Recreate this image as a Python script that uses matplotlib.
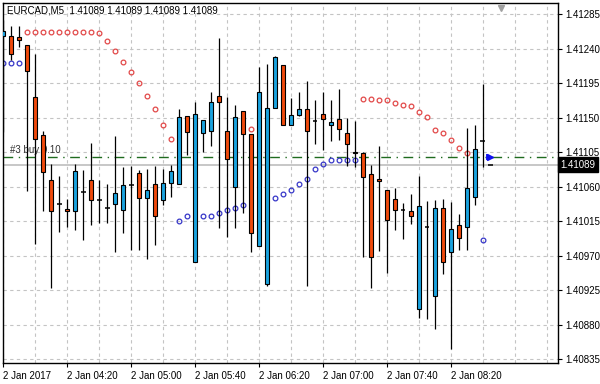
import numpy as np
import matplotlib
matplotlib.use("Agg")
import matplotlib.pyplot as plt
import matplotlib.transforms as mtransforms

plt.rcParams['font.family'] = ['Liberation Sans', 'DejaVu Sans']

# EURCAD M5 bars (open, high, low, close)
opens = [1.41257, 1.41257, 1.41256, 1.41245, 1.41177, 1.41128, 1.41069, 1.41037, 1.41031, 1.41029,
         1.41053, 1.41069, 1.41043, 1.41033, 1.41038, 1.41030, 1.41063, 1.41078, 1.41046, 1.41064,
         1.41043, 1.41065, 1.41064, 1.41153, 1.40962, 1.41130, 1.41133, 1.41179, 1.41133, 1.41060,
         1.41159, 1.41129, 1.40983, 1.40933, 1.41163, 1.41219, 1.41141, 1.41154, 1.41161, 1.41146,
         1.41155, 1.41141, 1.41148, 1.41130, 1.41106, 1.41104, 1.41077, 1.41070, 1.41056, 1.41044,
         1.41030, 1.41028, 1.40901, 1.41008, 1.40918, 1.41033, 1.40975, 1.41010, 1.41008, 1.41047,
         1.41120, 1.41089]
highs = [1.41278, 1.41270, 1.41270, 1.41245, 1.41233, 1.41133, 1.41090, 1.41074, 1.41044, 1.41090,
         1.41082, 1.41117, 1.41069, 1.41064, 1.41127, 1.41086, 1.41087, 1.41082, 1.41083, 1.41087,
         1.41083, 1.41088, 1.41162, 1.41153, 1.41171, 1.41147, 1.41184, 1.41254, 1.41177, 1.41167,
         1.41159, 1.41129, 1.41217, 1.41220, 1.41231, 1.41219, 1.41176, 1.41184, 1.41198, 1.41173,
         1.41184, 1.41173, 1.41188, 1.41150, 1.41146, 1.41105, 1.41088, 1.41113, 1.41056, 1.41059,
         1.41039, 1.41050, 1.41074, 1.41041, 1.41043, 1.41044, 1.41040, 1.41024, 1.41137, 1.41141,
         1.41194, 1.41089]
lows = [1.41131, 1.41226, 1.41243, 1.41054, 1.40986, 1.41029, 1.40928, 1.41001, 1.41008, 1.41004,
        1.40990, 1.41010, 1.41013, 1.41013, 1.40975, 1.41000, 1.40978, 1.40978, 1.40966, 1.40984,
        1.41036, 1.41047, 1.41064, 1.41101, 1.40962, 1.41105, 1.41113, 1.41006, 1.40995, 1.41006,
        1.41026, 1.40975, 1.40983, 1.40930, 1.41163, 1.41141, 1.41141, 1.41152, 1.40930, 1.41116,
        1.41108, 1.41120, 1.41121, 1.41087, 1.41086, 1.40969, 1.40928, 1.40976, 1.40948, 1.41003,
        1.40992, 1.41012, 1.40889, 1.40887, 1.40875, 1.40946, 1.40848, 1.40977, 1.40978, 1.41036,
        1.41086, 1.41089]
closes = [1.41264, 1.41234, 1.41252, 1.41211, 1.41122, 1.41079, 1.41029, 1.41037, 1.41029, 1.41081,
          1.41053, 1.41043, 1.41043, 1.41033, 1.41052, 1.41063, 1.41063, 1.41046, 1.41056, 1.41022,
          1.41065, 1.41081, 1.41151, 1.41132, 1.41155, 1.41147, 1.41171, 1.41171, 1.41096, 1.41151,
          1.41129, 1.41000, 1.41184, 1.41163, 1.41230, 1.41141, 1.41154, 1.41161, 1.41133, 1.41146,
          1.41149, 1.41144, 1.41136, 1.41116, 1.41104, 1.41073, 1.40969, 1.41067, 1.41017, 1.41030,
          1.41030, 1.41022, 1.41035, 1.41008, 1.41033, 1.40962, 1.41005, 1.40993, 1.41058, 1.41110,
          1.41120, 1.41089]

# Parabolic SAR dots (None = not visible)
sar_red = [None, None, None, 1.41262, 1.41262, 1.41262, 1.41262, 1.41262, 1.41262, 1.41262,
           1.41262, 1.41262, 1.41261, 1.41251, 1.41237, 1.41223, 1.41210, 1.41196, 1.41179, 1.41162,
           1.41141, 1.41123, None, None, None, None, None, None, None, None,
           None, 1.41136, None, None, None, None, None, None, None, None,
           None, None, None, None, None, 1.41175, 1.41175, 1.41173, 1.41173, 1.41170,
           1.41167, 1.41165, 1.41158, 1.41151, 1.41134, 1.41130, 1.41121, 1.41111, 1.41104, None,
           None, None]
sar_blue = [1.41222, 1.41222, 1.41222, None, None, None, None, None, None, None,
            None, None, None, None, None, None, None, None, None, None,
            None, None, 1.41016, 1.41022, None, 1.41022, 1.41022, 1.41026, 1.41030, 1.41033,
            1.41036, None, None, None, 1.41046, 1.41051, 1.41056, 1.41064, 1.41070, 1.41083,
            1.41090, 1.41095, 1.41095, 1.41095, 1.41095, None, None, None, None, None,
            None, None, None, None, None, None, None, None, None, None,
            1.40991, None]

price_ticks = [1.41285, 1.41240, 1.41195, 1.41150, 1.41105, 1.41060,
               1.41015, 1.40970, 1.40925, 1.40880, 1.40835]
time_tick_bars = [0, 8, 16, 24, 32, 40, 48, 56]
time_labels = ['2 Jan 2017', '2 Jan 04:20', '2 Jan 05:00', '2 Jan 05:40',
               '2 Jan 06:20', '2 Jan 07:00', '2 Jan 07:40', '2 Jan 08:20']

bid = 1.41089
order_price = 1.41099
order_label = '#3 buy 0.10'
title = 'EURCAD,M5  1.41089 1.41089 1.41089 1.41089'

BULL = '#1AA3E0'
BEAR = '#F04A0C'

fig = plt.figure(figsize=(6, 3.84), dpi=100)
ax = fig.add_axes([3 / 600, 21 / 384, 555 / 600, 360 / 384])
ax.set_xlim(-0.04, 69.4)
ax.set_ylim(1.40830, 1.41300)

# grid
for gx in range(0, 70, 4):
    ax.axvline(gx, color='#C4C4C4', lw=0.8, ls=(0, (3, 3)), zorder=0)
for gy in price_ticks:
    ax.axhline(gy, color='#C4C4C4', lw=0.8, ls=(0, (3, 3)), zorder=0)

# bid and order lines
ax.axhline(bid, color='#BDBDBD', lw=1.2, zorder=1)
ax.axhline(order_price, color='#1F6B1F', lw=1.0, ls=(0, (7, 4, 1, 4)), zorder=1)
ax.text(0.8, 1.41108, order_label, fontsize=7, color='#333333', va='center', ha='left', zorder=1)

x = np.arange(len(opens))
o = np.array(opens)
c = np.array(closes)
h = np.array(highs)
l = np.array(lows)

# SAR dots
ax.plot(x, np.array(sar_red, dtype=float), 'o', ms=3.4, mfc='none', mec='#E24848', mew=0.9, zorder=2)
ax.plot(x, np.array(sar_blue, dtype=float), 'o', ms=3.4, mfc='none', mec='#3636C8', mew=0.9, zorder=2)

# candles
ax.vlines(x, l, h, color='black', lw=0.9, zorder=3)
w = 0.5
for i in range(len(x)):
    if o[i] == c[i]:
        ax.hlines(o[i], x[i] - w / 2 - 0.05, x[i] + w / 2 + 0.05, color='black', lw=1.1, zorder=4)
    else:
        col = BULL if c[i] > o[i] else BEAR
        ax.bar(x[i], abs(c[i] - o[i]), width=w, bottom=min(o[i], c[i]),
               color=col, edgecolor='black', linewidth=0.8, zorder=4)

# order arrow
ax.plot([60.85], [order_price], marker='>', ms=4.5, color='#1010F0', zorder=5)
ax.plot([60.55], [order_price], marker='|', ms=4.5, mew=1.3, color='#1010F0', zorder=5)

# chart shift marker
trans = mtransforms.blended_transform_factory(ax.transData, ax.transAxes)
ax.plot([62.3], [0.985], marker='v', ms=5, color='#A0A0A0', transform=trans, clip_on=False, zorder=5)

ax.text(0.007, 0.979, title, transform=ax.transAxes, fontsize=7, va='center', ha='left', zorder=6)

# axes styling
for sp in ax.spines.values():
    sp.set_color('black')
    sp.set_linewidth(1.0)
ax.yaxis.tick_right()
ax.set_yticks(price_ticks)
ax.set_yticklabels([f'{p:.5f}' for p in price_ticks])
ax.set_xticks(time_tick_bars)
ax.set_xticklabels(time_labels, ha='left')
ax.tick_params(axis='both', length=3, width=0.8, labelsize=7, colors='black', pad=2)
ax.tick_params(axis='x', pad=3)

# current price label
ty = mtransforms.blended_transform_factory(ax.transAxes, ax.transData)
ax.text(1.005, bid, f'{bid:.5f}', transform=ty, fontsize=7, color='white', va='center', ha='left',
        bbox=dict(boxstyle='square,pad=0.25', fc='black', ec='black'), zorder=7, clip_on=False)

fig.savefig('out.png', dpi=100)
